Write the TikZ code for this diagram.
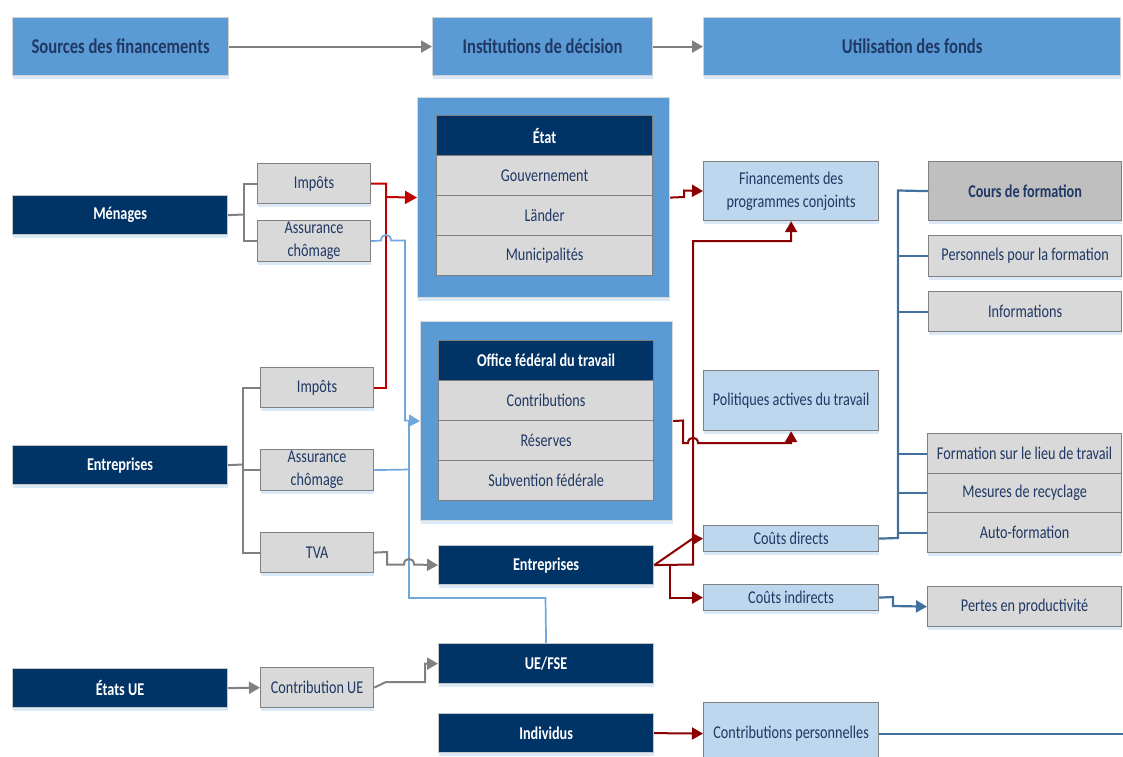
\documentclass[tikz,border=0pt]{standalone}
\usepackage{fontspec}
\setmainfont{Carlito}[FakeStretch=0.79]
\usetikzlibrary{arrows.meta,shadows}
\definecolor{navy}{HTML}{003366}
\definecolor{hdrblue}{HTML}{5B9BD5}
\definecolor{txtnavy}{HTML}{1F3864}
\definecolor{boxgray}{HTML}{D9D9D9}
\definecolor{boxgraydk}{HTML}{BFBFBF}
\definecolor{lightblue}{HTML}{BDD7EE}
\definecolor{edgegray}{HTML}{808080}
\definecolor{redA}{HTML}{C00000}
\definecolor{redB}{HTML}{8B0000}
\definecolor{lineblue}{HTML}{6FA8DC}
\definecolor{steel}{HTML}{41719C}
\begin{document}
\begin{tikzpicture}[x=1pt,y=-1pt,
  base/.style={rectangle, inner sep=0pt, anchor=north west, align=center,
    line width=1.2pt, font=\fontsize{18}{23}\selectfont, text=txtnavy},
  wh/.style 2 args={minimum width=#1pt, minimum height=#2pt},
  shade/.style={drop shadow={shadow xshift=0pt, shadow yshift=-3pt, fill=hdrblue!22, draw=none, opacity=1}},
  hdr/.style={base, shade, fill=hdrblue, draw=gray!35, font=\bfseries\fontsize{21}{25}\selectfont},
  src/.style={base, shade, fill=navy, draw=gray!45, text=white, font=\bfseries\fontsize{18}{23}\selectfont},
  item/.style={base, shade, fill=boxgray, draw=edgegray},
  frame/.style={base, shade, fill=hdrblue, draw=gray!30},
  cell/.style={base, fill=boxgray, draw=edgegray},
  cellhead/.style={base, fill=navy, draw=edgegray, text=white, font=\bfseries\fontsize{18}{23}\selectfont},
  use/.style={base, shade, fill=lightblue, draw=edgegray},
  tight/.style={inner ysep=-4pt},
  tip/.style={-{Triangle[length=11pt,width=12pt]}},
  gline/.style={draw=edgegray, line width=2pt},
  rline/.style={draw=redA, line width=2pt},
  dline/.style={draw=redB, line width=2pt},
  bline/.style={draw=lineblue, line width=1.7pt},
  sline/.style={draw=steel, line width=2.2pt}
]
\useasboundingbox (0,0) rectangle (1123,756);

% column headings
\node[hdr, wh={216}{58}] (hsrc)  at (12,17)  {Sources des financements};
\node[hdr, wh={220}{58}] (hinst) at (432,17) {Institutions de décision};
\node[hdr, wh={417}{58}] (huse)  at (703,17) {Utilisation des fonds};

% sources
\node[src, wh={215}{39}] (men) at (12,195) {Ménages};
\node[src, wh={215}{39}] (ent) at (12,445) {Entreprises};
\node[src, wh={215}{39}] (eu)  at (12,668) {États UE};

\node[item, wh={113}{40}] (imp1) at (257,163) {Impôts};
\node[item, tight, wh={113}{41}] (ac1) at (257,220) {Assurance\\chômage};
\node[item, wh={113}{40}] (imp2) at (260,367) {Impôts};
\node[item, tight, wh={113}{41}] (ac2) at (260,449) {Assurance\\chômage};
\node[item, wh={113}{40}] (tva)  at (260,532) {TVA};
\node[item, wh={113}{40}] (cue)  at (260,667) {Contribution UE};

% decision institutions
\node[frame, wh={252}{200}] (etat) at (417,97) {};
\node[cellhead, wh={216}{40}] (etath) at (436,115) {État};
\node[cell, wh={216}{40}] (gouv) at (436,155) {Gouvernement};
\node[cell, wh={216}{40}] (land) at (436,195) {Länder};
\node[cell, wh={216}{40}] (muni) at (436,235) {Municipalités};

\node[frame, wh={252}{199}] (office) at (420,321) {};
\node[cellhead, wh={215}{40}] (offh) at (438,340) {Office fédéral du travail};
\node[cell, wh={215}{40}] (contr) at (438,380) {Contributions};
\node[cell, wh={215}{40}] (res)   at (438,420) {Réserves};
\node[cell, wh={215}{40}] (subv)  at (438,460) {Subvention fédérale};

\node[src, wh={215}{39}] (entm)  at (438,545) {Entreprises};
\node[src, wh={215}{40}] (uefse) at (438,643) {UE/FSE};
\node[src, wh={215}{39}] (indiv) at (438,713) {Individus};

% uses of funds
\node[use, wh={175}{59}] (fin) at (703,161) {Financements des\\programmes conjoints};
\node[use, wh={175}{60}] (pol) at (703,370) {Politiques actives du travail};
\node[use, wh={175}{26}] (cd)  at (703,525) {Coûts directs};
\node[use, wh={175}{26}] (ci)  at (703,584) {Coûts indirects};
\node[use, wh={175}{62}] (cp)  at (703,702) {Contributions personnelles};

\node[item, fill=boxgraydk, font=\bfseries\fontsize{18}{23}\selectfont, wh={193}{59}] (cours) at (928,161) {Cours de formation};
\node[item, wh={193}{41}] (pers) at (928,235) {Personnels pour la formation};
\node[item, wh={193}{40}] (info) at (928,291) {Informations};
\node[item, wh={194}{40}] (flt)  at (927,433) {Formation sur le lieu de travail};
\node[item, wh={194}{39}] (mes)  at (927,473) {Mesures de recyclage};
\node[item, wh={194}{40}] (auto) at (927,512) {Auto-formation};
\node[item, wh={194}{40}] (pertes) at (927,586) {Pertes en productivité};

% heading flow
\draw[gline, tip] (hsrc.east) -- (hinst.west);
\draw[gline, tip] (hinst.east) -- (huse.west);

% source branches
\draw[gline] (imp1.west) -- ++(-13,0) |- (ac1.west);
\draw[gline] (men.east) -- (244,214.5);
\draw[gline] (imp2.west) -- ++(-17,0) |- (tva.west);
\draw[gline] (ac2.west) -- ++(-17,0);
\draw[gline] (ent.east) -- (243,464.5);
\draw[gline, tip] (eu.east) -- (cue.west);

% taxes to the state
\draw[rline] (imp2.east) -| (386,197);
\draw[rline, -{Triangle[length=12pt,width=13pt]}] (imp1.east) -| (386,197) -- (etat.west);

% unemployment insurance and EU funds to the labour office
\draw[bline] (uefse.north) -- (545.5,598) -- (409,598) -- (409,420.5);
\draw[bline] (ac2.east) -- (409,469.5);
\draw[bline, tip] (ac1.east) -- (381,240.5)
  .. controls (381,233) and (391,233) .. (391,240.5)
  -- (405,240.5) -- (405,420.5) -- (office.west);

% VAT and EU contribution
\draw[gline, tip] (tva.east) -- (387,552) -- (387,564.5) -- (404,564.5)
  .. controls (404,557) and (414,557) .. (414,564.5) -- (entm.west);
\draw[gline, tip] (cue.east) -- (386,682) -- (425,682) |- (uefse.west);

% funding flows to uses
\draw[dline, tip] (etat.east) -- (684,197) -- (684,190.5) -- (fin.west);
\draw[dline, tip] (entm.east) -- (693,564.5) -- (693,241) -| (fin.south);
\draw[dline, tip] (office.east) -- (683,420.5) -- (683,443) -- (688,443)
  .. controls (688,436) and (698,436) .. (698,443) -| (pol.south);
\draw[dline, tip] (entm.east) -- (692,539) -- (cd.west);
\draw[dline, tip] (entm.east) -- ++(16,0) |- (ci.west);
\draw[dline, tip] (indiv.east) -- (cp.west);

% direct costs breakdown
\draw[sline] (cd.east) -- (898,538) -- (898,190.5) -- (cours.west);
\draw[sline] (pers.west) -- ++(-30,0);
\draw[sline] (info.west) -- ++(-30,0);
\draw[sline] (flt.west) -- ++(-29,0);
\draw[sline] (mes.west) -- ++(-29,0);
\draw[sline] (auto.west) -- ++(-29,0);
\draw[sline, tip] (ci.east) -- (893,597) -- (893,606) -- (pertes.west);
\draw[sline] (cp.east) -- ++(250,0);
\end{tikzpicture}
\end{document}
